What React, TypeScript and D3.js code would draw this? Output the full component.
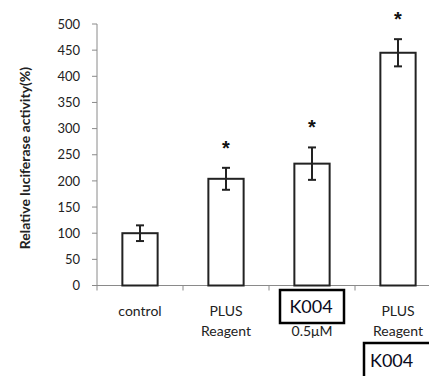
import React from "react";
import * as d3 from "d3";

const categories = ["control", "PLUS Reagent", "K004 0.5μM", "PLUS Reagent K004"];
const values = [100, 204, 233, 445];
const errors = [15, 21, 31, 26];
const significant = [false, true, true, true];
const yTicks = [0, 50, 100, 150, 200, 250, 300, 350, 400, 450, 500];

const W = 429;
const H = 376;
const FONT = "Lato, 'Open Sans', sans-serif";

export default function App() {
  const y = d3.scaleLinear().domain([0, 500]).range([285.5, 24]);
  const x = d3.scaleBand<string>().domain(categories).range([97, 441]).padding(0);
  const bw = x.bandwidth() * 0.41;
  const cx = (c: string) => (x(c) as number) + x.bandwidth() / 2;
  const axisColor = "#8a8a8a";
  const lab = 14;

  return (
    <svg width={W} height={H} style={{ position: "absolute", left: 0, top: 0, background: "#fff" }}>
      {/* y axis */}
      <line x1={97} x2={97} y1={y(500)} y2={y(0) + 5} stroke={axisColor} strokeWidth={1} />
      {yTicks.map((t) => (
        <g key={t}>
          <line x1={92} x2={97} y1={y(t)} y2={y(t)} stroke={axisColor} strokeWidth={1} />
          <text x={80} y={y(t)} dy="0.36em" textAnchor="end" fontFamily={FONT} fontSize={13} fill="#222">
            {t}
          </text>
        </g>
      ))}
      {/* x axis */}
      <line x1={97} x2={W} y1={y(0)} y2={y(0)} stroke={axisColor} strokeWidth={1} />
      {categories.map((c, i) =>
        i > 0 ? (
          <line key={c} x1={x(c) as number} x2={x(c) as number} y1={y(0)} y2={y(0) + 5} stroke={axisColor} strokeWidth={1} />
        ) : null
      )}
      {/* y title */}
      <text
        transform={`translate(30,158) rotate(-90)`}
        textAnchor="middle"
        fontFamily={FONT}
        fontWeight="bold"
        fontSize={14}
        fill="#222"
      >
        Relative luciferase activity(%)
      </text>
      {/* bars */}
      {categories.map((c, i) => {
        const xc = cx(c);
        const top = y(values[i]);
        const eTop = y(values[i] + errors[i]);
        const eBot = y(values[i] - errors[i]);
        return (
          <g key={c}>
            <rect x={xc - bw / 2} y={top} width={bw} height={y(0) - top} fill="#fff" stroke="#222" strokeWidth={2} />
            <line x1={xc} x2={xc} y1={eTop} y2={eBot} stroke="#222" strokeWidth={2} />
            <line x1={xc - 4} x2={xc + 4} y1={eTop} y2={eTop} stroke="#222" strokeWidth={2} />
            <line x1={xc - 4} x2={xc + 4} y1={eBot} y2={eBot} stroke="#222" strokeWidth={2} />
            {significant[i] ? (
              <text x={xc} y={eTop - 27} dy="0.7em" textAnchor="middle" fontFamily="Arial, 'Liberation Sans', sans-serif" fontWeight="bold" fontSize={20} fill="#111">
                *
              </text>
            ) : null}
          </g>
        );
      })}
      {/* x labels */}
      <text x={cx(categories[0])} y={316} textAnchor="middle" fontFamily={FONT} fontSize={lab} fill="#222">
        control
      </text>
      <text x={cx(categories[1])} y={316} textAnchor="middle" fontFamily={FONT} fontSize={lab} fill="#222">
        PLUS
      </text>
      <text x={cx(categories[1])} y={336} textAnchor="middle" fontFamily={FONT} fontSize={lab} fill="#222">
        Reagent
      </text>
      <text x={cx(categories[2])} y={336} textAnchor="middle" fontFamily={FONT} fontSize={lab} fill="#222">
        0.5μM
      </text>
      <rect x={280} y={290} width={64} height={33} fill="#fff" stroke="#000" strokeWidth={2.5} />
      <text x={311} y={313} textAnchor="middle" fontFamily={FONT} fontSize={18} fill="#0a0a20">
        K004
      </text>
      <text x={cx(categories[3])} y={316} textAnchor="middle" fontFamily={FONT} fontSize={lab} fill="#222">
        PLUS
      </text>
      <text x={cx(categories[3])} y={336} textAnchor="middle" fontFamily={FONT} fontSize={lab} fill="#222">
        Reagent
      </text>
      <rect x={364} y={343} width={80} height={40} fill="#fff" stroke="#000" strokeWidth={2.5} />
      <text x={370} y={367} fontFamily={FONT} fontSize={18} fill="#0a0a20">
        K004
      </text>
    </svg>
  );
}
